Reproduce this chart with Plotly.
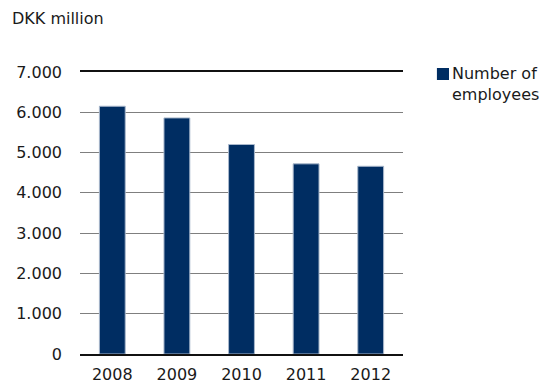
import plotly.graph_objects as go

years = ["2008", "2009", "2010", "2011", "2012"]
employees = [6150, 5860, 5200, 4720, 4660]
y_ticks = [0, 1000, 2000, 3000, 4000, 5000, 6000, 7000]
y_tick_labels = ["0", "1.000", "2.000", "3.000", "4.000", "5.000", "6.000", "7.000"]
series_name = "Number of<br>employees"
bar_color = "#002D62"

fig = go.Figure()
fig.add_trace(go.Bar(
    x=years, y=employees, name=series_name,
    marker=dict(color=bar_color, line=dict(color="#A9B8CC", width=1)),
))
font = dict(family="DejaVu Sans, Verdana, sans-serif", size=16, color="#1A1A1A")
fig.update_layout(
    width=539, height=383,
    margin=dict(l=80, r=136, t=72, b=29, autoexpand=False),
    paper_bgcolor="white", plot_bgcolor="white",
    font=font,
    bargap=0.6,
    showlegend=False,
    annotations=[
        dict(text="DKK million", xref="paper", yref="paper",
             x=-0.218, y=1.19, xanchor="left", yanchor="middle",
             showarrow=False, font=font),
        dict(text=series_name, xref="paper", yref="paper",
             x=1.146, y=0.956, xanchor="left", yanchor="middle", align="left",
             showarrow=False, font=font),
    ],
    shapes=[dict(type="rect", xref="paper", yref="paper",
                 x0=1.105, x1=1.1424, y0=0.9716, y1=1.0142,
                 fillcolor=bar_color, line=dict(width=0))],
)
fig.update_yaxes(range=[0, 7000], tickvals=y_ticks, ticktext=y_tick_labels,
                 showgrid=True, gridcolor="#7F7F7F", gridwidth=1,
                 zeroline=False, ticks="", ticklabelstandoff=17, automargin=False)
fig.update_xaxes(showline=True, mirror=True, linecolor="#111111", linewidth=1.5,
                 ticks="", ticklabelstandoff=5, automargin=False)
fig.write_html("out.html", config={"displayModeBar": False},
               post_script="document.body.style.margin='0';")
